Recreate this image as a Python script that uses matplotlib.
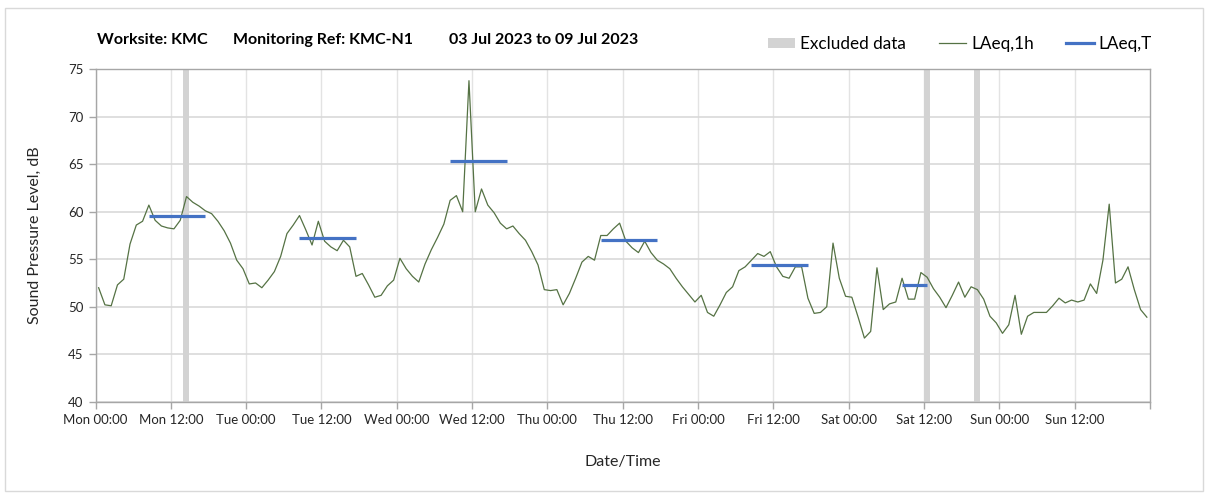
import matplotlib
matplotlib.use("Agg")
import matplotlib.pyplot as plt
import matplotlib.patches as mpatches
from matplotlib.lines import Line2D

plt.rcParams['font.family'] = ['Lato', 'DejaVu Sans']

# hourly LAeq,1h, Mon 00:00 .. Sun 23:00
laeq_1h = [
    52.0, 50.2, 50.1, 52.3, 52.9, 56.6, 58.6, 59.0, 60.7, 59.1, 58.5, 58.3,
    58.2, 59.1, 61.6, 61.0, 60.6, 60.1, 59.8, 59.0, 58.0, 56.7, 54.9, 54.0,
    52.4, 52.5, 52.0, 52.8, 53.7, 55.3, 57.7, 58.6, 59.6, 58.1, 56.5, 59.0,
    56.9, 56.3, 55.9, 57.0, 56.3, 53.2, 53.5, 52.3, 51.0, 51.2, 52.2, 52.8,
    55.1, 54.0, 53.2, 52.6, 54.5, 56.0, 57.3, 58.7, 61.2, 61.7, 60.0, 73.8,
    60.0, 62.4, 60.7, 59.9, 58.8, 58.2, 58.5, 57.7, 57.0, 55.8, 54.4, 51.8,
    51.7, 51.8, 50.2, 51.4, 53.0, 54.7, 55.3, 54.9, 57.5, 57.5, 58.2, 58.8,
    56.9, 56.2, 55.7, 56.9, 55.7, 54.9, 54.5, 54.0, 53.0, 52.1, 51.3, 50.5,
    51.2, 49.4, 49.0, 50.2, 51.5, 52.1, 53.8, 54.2, 54.9, 55.6, 55.3, 55.8,
    54.2, 53.2, 53.0, 54.2, 54.2, 50.9, 49.3, 49.4, 50.0, 56.7, 53.0, 51.1,
    51.0, 48.9, 46.7, 47.4, 54.1, 49.7, 50.3, 50.5, 53.0, 50.8, 50.8, 53.6,
    53.1, 51.9, 51.0, 49.9, 51.2, 52.6, 51.0, 52.1, 51.8, 50.8, 49.0, 48.3,
    47.2, 48.1, 51.2, 47.1, 49.0, 49.4, 49.4, 49.4, 50.1, 50.9, 50.4, 50.7,
    50.5, 50.7, 52.4, 51.4, 54.9, 60.8, 52.5, 52.9, 54.2, 51.8, 49.7, 48.9,
]

# LAeq,T periods (hours from Mon 00:00) and levels
period_start = [8.5, 32.5, 56.5, 80.5, 104.5, 128.5]
period_end = [17.5, 41.5, 65.5, 89.5, 113.5, 132.5]
laeq_t = [59.6, 57.2, 65.3, 57.0, 54.4, 52.3]

# excluded hours
excluded_hours = [14, 132, 140]

tick_labels = ["Mon 00:00", "Mon 12:00", "Tue 00:00", "Tue 12:00",
               "Wed 00:00", "Wed 12:00", "Thu 00:00", "Thu 12:00",
               "Fri 00:00", "Fri 12:00", "Sat 00:00", "Sat 12:00",
               "Sun 00:00", "Sun 12:00"]

green = "#557244"
blue = "#4472C4"
grey_band = "#d3d3d3"
axis_grey = "#a6a6a6"

W, H = 1208, 493
fig = plt.figure(figsize=(W / 100, H / 100), dpi=100)
ax = fig.add_axes([95.5 / W, 1 - 401.7 / H, (1150 - 95.5) / W, (401.7 - 69.3) / H])

# excluded data bands
for h in excluded_hours:
    ax.axvspan(h, h + 0.95, color=grey_band, lw=0, zorder=1)

hours = [i + 0.5 for i in range(len(laeq_1h))]
ax.plot(hours, laeq_1h, color=green, linewidth=0.9, zorder=3)

for s, e, v in zip(period_start, period_end, laeq_t):
    ax.plot([s, e], [v, v], color=blue, linewidth=2.3, solid_capstyle="butt", zorder=4)

ax.set_xlim(0, 168)
ax.set_ylim(40, 75)
ax.set_xticks(range(0, 168, 12))
ax.set_xticks([168], minor=True)
ax.set_xticklabels(tick_labels)
ax.set_yticks(range(40, 80, 5))

ax.grid(axis="y", color="#d9d9d9", linewidth=1.2, zorder=0)
ax.grid(axis="x", color="#e3e3e3", linewidth=1.0, zorder=0)
ax.set_axisbelow(True)

for sp in ax.spines.values():
    sp.set_color(axis_grey)
    sp.set_linewidth(1.0)

ax.tick_params(axis="both", which="both", colors=axis_grey, length=5, width=1.0,
               labelcolor="#262626", labelsize=9.5)
ax.tick_params(axis="x", pad=4)

ax.set_ylabel("Sound Pressure Level, dB", fontsize=11.5, color="#262626", labelpad=19)
ax.set_xlabel("Date/Time", fontsize=11.5, color="#262626", labelpad=21)

# title pieces
fig.text(97 / W, 1 - 40 / H, "Worksite: KMC", fontsize=11.5, fontweight="bold", va="center")
fig.text(233 / W, 1 - 40 / H, "Monitoring Ref: KMC-N1", fontsize=11.5, fontweight="bold", va="center")
fig.text(449 / W, 1 - 40 / H, "03 Jul 2023 to 09 Jul 2023", fontsize=11.5, fontweight="bold", va="center")

handles = [
    mpatches.Patch(facecolor=grey_band, edgecolor="none", label="Excluded data"),
    Line2D([], [], color=green, linewidth=0.9, label="LAeq,1h"),
    Line2D([], [], color=blue, linewidth=2.3, label="LAeq,T"),
]
fig.legend(handles=handles, loc="center right", bbox_to_anchor=(1152 / W, 1 - 44 / H),
           ncol=3, frameon=False, fontsize=12.3, columnspacing=1.9, handlelength=1.6,
           handletextpad=0.3, handleheight=0.6, borderpad=0, borderaxespad=0)

# outer chart border
fig.add_artist(mpatches.Rectangle((5 / W, 2 / H), (1203 - 5) / W, (491 - 8) / H,
                                  transform=fig.transFigure, fill=False,
                                  edgecolor="#d9d9d9", linewidth=1.0))

fig.savefig("out.png", dpi=100)
